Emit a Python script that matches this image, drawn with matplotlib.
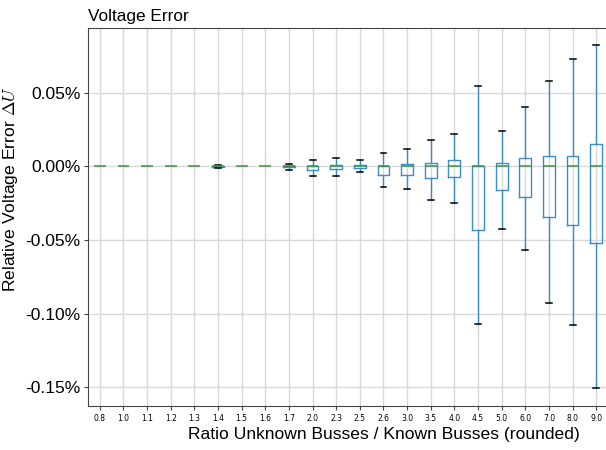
import matplotlib
matplotlib.use("Agg")
import matplotlib.pyplot as plt
from matplotlib.ticker import FuncFormatter

# relative voltage error in percent, per ratio group
ratios = ["0.8", "1.0", "1.1", "1.2", "1.3", "1.4", "1.5", "1.6", "1.7", "2.0", "2.3",
          "2.5", "2.6", "3.0", "3.5", "4.0", "4.5", "5.0", "6.0", "7.0", "8.0", "9.0"]
med = [0.0] * 22
q1 = [0.0, 0.0, 0.0, 0.0, 0.0, -0.0003, 0.0, 0.0, -0.0005, -0.0027, -0.0020,
      -0.0009, -0.0056, -0.0056, -0.0077, -0.0074, -0.0432, -0.0160, -0.0205, -0.0345, -0.0399, -0.0520]
q3 = [0.0, 0.0, 0.0, 0.0, 0.0, 0.0003, 0.0, 0.0, 0.0003, 0.0003, 0.00135,
      0.00135, 0.0, 0.0016, 0.0027, 0.0045, 0.0, 0.0027, 0.0056, 0.0068, 0.0074, 0.0153]
whislo = [0.0, 0.0, 0.0, 0.0, 0.0, -0.0008, 0.0, 0.0, -0.0022, -0.0068, -0.0065,
          -0.0036, -0.0142, -0.0155, -0.0227, -0.0250, -0.1072, -0.0428, -0.0570, -0.0928, -0.1079, -0.1505]
whishi = [0.0, 0.0, 0.0, 0.0, 0.0, 0.0008, 0.0, 0.0, 0.0014, 0.0041, 0.0061,
          0.0041, 0.0090, 0.0119, 0.0178, 0.0223, 0.0550, 0.0243, 0.0408, 0.0583, 0.0733, 0.0823]

plt.rcParams["font.family"] = ["Liberation Sans", "DejaVu Sans"]
plt.rcParams["mathtext.fontset"] = "cm"

stats = []
for i in range(len(ratios)):
    stats.append({"med": med[i], "q1": q1[i], "q3": q3[i],
                  "whislo": whislo[i], "whishi": whishi[i], "fliers": []})

fig = plt.figure(figsize=(6.06, 4.5), dpi=100)
ax = fig.add_axes([88 / 606, 1 - 406 / 450, 520 / 606, 378 / 450])

bp = ax.bxp(stats, positions=range(1, len(ratios) + 1), widths=0.5, showfliers=False,
            boxprops=dict(color="#3a8ccc", linewidth=1),
            whiskerprops=dict(color="#3a8ccc", linewidth=1),
            capprops=dict(color="black", linewidth=1.1),
            medianprops=dict(color="#2ca02c", linewidth=1.1, zorder=5))

# groups with no spread only show the median line
for i in range(len(ratios)):
    if whislo[i] == whishi[i]:
        bp["caps"][2 * i].set_visible(False)
        bp["caps"][2 * i + 1].set_visible(False)
        bp["boxes"][i].set_visible(False)

ax.set_xlim(0.5, len(ratios) + 0.5)
ax.set_ylim(-0.1629, 0.0942)
ax.set_yticks([-0.15, -0.10, -0.05, 0.0, 0.05])
ax.yaxis.set_major_formatter(FuncFormatter(lambda v, p: "%.2f%%" % (0.0 if abs(v) < 1e-9 else v)))
ax.set_xticks(range(1, len(ratios) + 1))
ax.set_xticklabels(ratios, fontsize=5.5, family="DejaVu Sans")
ax.tick_params(axis="y", labelsize=12.5, length=3, color="#444444", pad=2.5)
ax.tick_params(axis="x", length=3, color="#444444", pad=2.5)
ax.grid(True, color="#d8d8d8", linewidth=1)
ax.set_axisbelow(True)
for s in ax.spines.values():
    s.set_color("#444444")

ax.set_title("Voltage Error", loc="left", fontsize=12.4, pad=5)
ax.set_xlabel("Ratio Unknown Busses / Known Busses (rounded)", fontsize=12.6)
ax.xaxis.set_label_coords(0.569, -0.055)
ax.set_ylabel(r"Relative Voltage Error $\Delta U$", fontsize=12.6)
ax.yaxis.set_label_coords(-0.13, 0.573)

fig.savefig("out.png", dpi=100)
